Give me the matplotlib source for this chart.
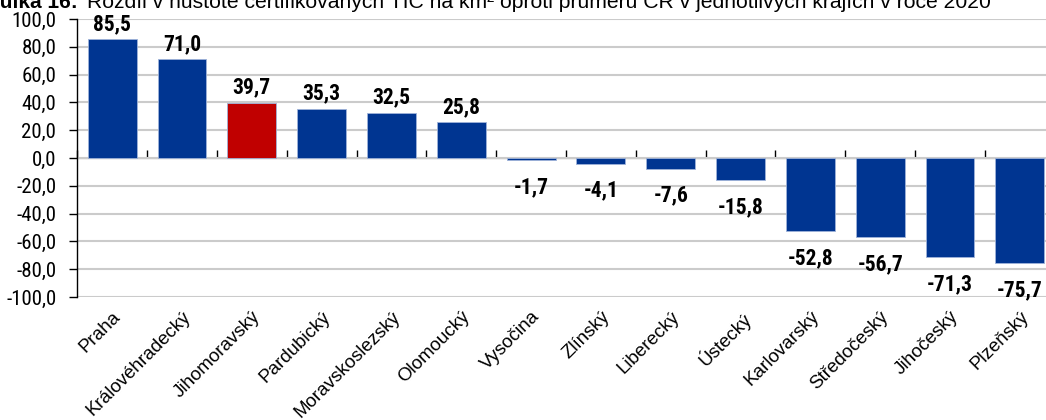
import matplotlib
matplotlib.use("Agg")
import matplotlib.pyplot as plt
import numpy as np
from matplotlib import font_manager

regions = ["Praha", "Královéhradecký", "Jihomoravský", "Pardubický", "Moravskoslezský",
           "Olomoucký", "Vysočina", "Zlínský", "Liberecký", "Ústecký", "Karlovarský",
           "Středočeský", "Jihočeský", "Plzeňský"]
values = [85.5, 71.0, 39.7, 35.3, 32.5, 25.8, -1.7, -4.1, -7.6, -15.8, -52.8, -56.7, -71.3, -75.7]
highlight = "Jihomoravský"
yticks = [-100, -80, -60, -40, -20, 0, 20, 40, 60, 80, 100]

title_bold = "Tabulka 16:"
title_rest = "Rozdíl v hustotě certifikovaných TIC na km² oproti průměru ČR v jednotlivých krajích v roce 2020"

fl = font_manager.fontManager.ttflist
names = {f.name for f in fl}
bold_names = {f.name for f in fl if (f.weight if isinstance(f.weight, int) else 700 if 'bold' in str(f.weight) else 400) >= 700}
base = "Liberation Sans" if "Liberation Sans" in names else "DejaVu Sans"
narrow = base
narrow_bold = base
cands = ["Liberation Sans Narrow", "Arial Narrow", "Roboto Condensed", "Archivo Narrow",
         "PT Sans Narrow", "Open Sans Condensed", "Asap Condensed", "Barlow Semi Condensed"]
for cand in cands:
    if cand in names:
        narrow = cand
        break
for cand in cands:
    if cand in bold_names:
        narrow_bold = cand
        break
plt.rcParams['font.family'] = [base, 'DejaVu Sans']

BLUE = "#003591"
RED = "#C00000"

fig = plt.figure(figsize=(10.46, 4.2), dpi=100)
W, H = 1046, 420
left, right, top, bottom = 77.2, 1054.8, 19, 297
ax = fig.add_axes([left / W, 1 - bottom / H, (right - left) / W, (bottom - top) / H])

x = np.arange(len(regions))
colors = [RED if r == highlight else BLUE for r in regions]
ax.bar(x, values, width=0.70, color=colors, edgecolor="#9fb3d9", linewidth=0.6, zorder=3)

ax.set_xlim(-0.5, len(regions) - 0.5)
ax.set_ylim(-100, 100)
ax.set_yticks(yticks)
ax.set_yticklabels([f"{v:.1f}".replace(".", ",") for v in yticks], fontsize=15,
                   family=[narrow, 'DejaVu Sans'])
ax.grid(axis="y", color="#cbcbcb", linewidth=1.5, zorder=0)
ax.set_axisbelow(True)

for s in ["top", "right", "bottom"]:
    ax.spines[s].set_visible(False)
ax.spines["left"].set_color("black")
ax.spines["left"].set_linewidth(1.0)
ax.tick_params(axis="y", direction="out", length=6, width=1, pad=9)

ax.set_xticks(x)
ax.set_xticklabels(regions, rotation=45, ha="right", rotation_mode="anchor", fontsize=13.5)
ax.tick_params(axis="x", length=0, pad=8)

# zero axis with boundary ticks
sec = ax.secondary_xaxis(0.5)
sec.set_xticks(np.arange(len(regions) + 1) - 0.5)
sec.set_xticklabels([])
sec.tick_params(axis="x", direction="out", length=6, width=1)
sec.spines["bottom"].set_color("black")
sec.spines["bottom"].set_linewidth(1.0)

for xi, v in zip(x, values):
    lab = f"{v:.1f}".replace(".", ",")
    off = 11 if v >= 0 else -19.5
    ax.annotate(lab, (xi, v), xytext=(0, off), textcoords="offset points",
                ha="center", va="center", fontsize=15.5, fontweight="bold",
                family=[narrow_bold, 'DejaVu Sans'])

fig.text(78 / W, 1 - 8 / H, title_bold, ha="right", va="baseline", fontsize=15, fontweight="bold")
fig.text(87 / W, 1 - 8 / H, title_rest, ha="left", va="baseline", fontsize=15.2)

fig.savefig("out.png", dpi=100)
